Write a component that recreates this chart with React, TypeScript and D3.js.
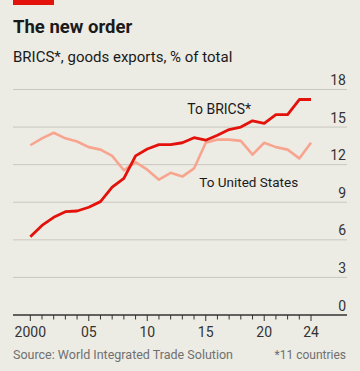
import React from "react";
import * as d3 from "d3";

const years = d3.range(2000, 2025);
const toBrics = [6.25, 7.15, 7.8, 8.25, 8.3, 8.6, 9.05, 10.2, 10.9, 12.7, 13.25, 13.6, 13.6, 13.75, 14.15, 13.95, 14.35, 14.8, 15.0, 15.5, 15.3, 16.0, 16.0, 17.2, 17.2];
const toUS = [13.55, 14.1, 14.55, 14.1, 13.85, 13.4, 13.2, 12.7, 11.55, 12.2, 11.6, 10.8, 11.35, 11.05, 11.7, 13.75, 14.0, 14.0, 13.9, 12.8, 13.75, 13.4, 13.2, 12.5, 13.75];
const yTicks = [0, 3, 6, 9, 12, 15, 18];
const xLabelYears = [2000, 2005, 2010, 2015, 2020, 2024];
const xLabelText = ["2000", "05", "10", "15", "20", "24"];

const W = 360;
const H = 371;
const FONT = "Roboto, 'Noto Sans', sans-serif";

export default function App() {
  const x = d3.scaleLinear().domain([2000, 2024]).range([30.3, 311]);
  const y = d3.scaleLinear().domain([0, 18]).range([315, 89.5]);
  const line = d3
    .line<number>()
    .x((_, i) => x(years[i]))
    .y((d) => y(d));

  return (
    <svg
      width={W}
      height={H}
      style={{ position: "absolute", left: 0, top: 0, background: "#ecebe4" }}
      fontFamily={FONT}
    >
      <rect x={0} y={0} width={W} height={H} fill="#ecebe4" />
      <rect x={13} y={0} width={41} height={5} fill="#e3120b" />
      <text x={13} y={33} fontSize={18.5} fontWeight={700} fill="#1a1a1a">
        The new order
      </text>
      <text x={13} y={62} fontSize={15} fill="#1a1a1a">
        BRICS*, goods exports, % of total
      </text>

      {yTicks.map((t) => (
        <g key={t}>
          {t !== 0 && (
            <line x1={13} x2={347} y1={y(t)} y2={y(t)} stroke="#c9c7be" strokeWidth={1} />
          )}
          <text x={346} y={y(t) - 4.5} fontSize={14} textAnchor="end" fill="#333">
            {t}
          </text>
        </g>
      ))}

      <path d={line(toUS) || ""} fill="none" stroke="#f7a58f" strokeWidth={2.6} strokeLinejoin="round" />
      <path d={line(toBrics) || ""} fill="none" stroke="#e3120b" strokeWidth={2.8} strokeLinejoin="round" />

      <text x={187.3} y={114} fontSize={14} fill="#1a1a1a">
        To BRICS*
      </text>
      <text x={199.3} y={186.7} fontSize={13.5} fill="#1a1a1a">
        To United States
      </text>

      <line x1={13} x2={347} y1={315} y2={315} stroke="#333" strokeWidth={1.3} />
      {years.map((yr) => {
        const major = xLabelYears.includes(yr);
        return (
          <line
            key={yr}
            x1={x(yr)}
            x2={x(yr)}
            y1={315}
            y2={major ? 321 : 319.5}
            stroke="#333"
            strokeWidth={1}
          />
        );
      })}
      {xLabelYears.map((yr, i) => (
        <text key={yr} x={x(yr)} y={337.3} fontSize={14} textAnchor="middle" fill="#333">
          {xLabelText[i]}
        </text>
      ))}

      <text x={13} y={358.7} fontSize={12.5} fill="#707070">
        Source: World Integrated Trade Solution
      </text>
      <text x={346} y={358.7} fontSize={12} textAnchor="end" fill="#707070">
        *11 countries
      </text>
    </svg>
  );
}
